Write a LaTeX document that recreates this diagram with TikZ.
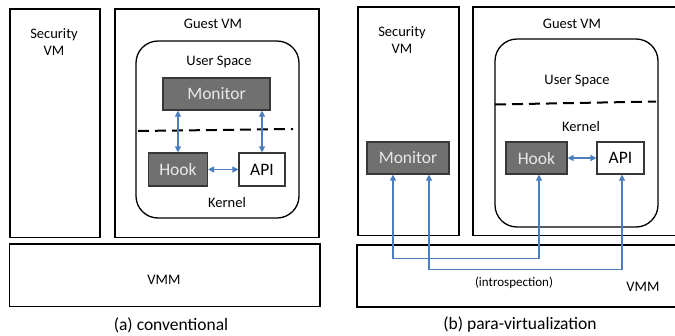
\documentclass[tikz,border=0pt]{standalone}
\usepackage{fontspec}
\setmainfont{Carlito}
\usetikzlibrary{arrows.meta}
\definecolor{linkblue}{RGB}{74,126,190}
\definecolor{darkfill}{RGB}{112,112,112}
\definecolor{darkedge}{RGB}{55,55,55}
\definecolor{lighttext}{RGB}{232,232,232}
\tikzset{
  frame/.style={draw=black,line width=1.8pt,inner sep=0pt},
  osbox/.style={draw=black,line width=1.3pt,rounded corners=22pt,inner sep=0pt},
  darkbox/.style={draw=darkedge,fill=darkfill,line width=1.1pt,inner sep=0pt,
    text=lighttext,font=\fontsize{17.5}{20}\selectfont},
  lightbox/.style={draw=darkedge,fill=white,line width=1.1pt,inner sep=0pt,
    text=black,font=\fontsize{17.5}{20}\selectfont},
  lbl/.style={inner sep=0pt,align=center,font=\fontsize{14.5}{17}\selectfont},
  caption/.style={inner sep=0pt,font=\fontsize{17.5}{20}\selectfont},
  userline/.style={line width=2pt,dash pattern=on 11pt off 6pt},
  link/.style={draw=linkblue,line width=1.2pt,
    {Triangle[length=6pt,width=6pt]}-{Triangle[length=6pt,width=6pt]}},
}
\begin{document}
\begin{tikzpicture}[x=1pt,y=-1pt]
\clip (0,0) rectangle (675,335);
\fill[white] (0,0) rectangle (675,335);

% ---------- (a) conventional ----------
\node[frame,minimum width=90.5pt,minimum height=228.5pt] (secA) at (55,123.25) {};
\node[frame,minimum width=204pt,minimum height=228.5pt] (guestA) at (217,123.25) {};
\node[osbox,minimum width=163pt,minimum height=177pt] (osA) at (217.5,129.5) {};
\node[frame,minimum width=310.5pt,minimum height=62.5pt] (vmmA) at (164.75,275.25) {};

\node[lbl] (secAlbl) at (54,42) {Security\\VM};
\node[lbl] (guestAlbl) at (213,24) {Guest VM};
\node[lbl] (userA) at (219,62) {User Space};
\node[lbl] (kernA) at (227,203) {Kernel};
\node[lbl] (vmmAlbl) at (164,280) {VMM};

\coordinate (dashAl) at (138,131);
\coordinate (dashAr) at (293,129);
\draw[userline] (dashAl) -- (dashAr);

\node[darkbox,minimum width=107pt,minimum height=32pt] (monA) at (216.5,94) {Monitor};
\node[darkbox,minimum width=59pt,minimum height=33pt] (hookA) at (178,169.5) {Hook};
\node[lightbox,minimum width=46pt,minimum height=33pt] (apiA) at (262,169.5) {API};

\draw[link] (monA.south -| hookA.north) -- (hookA.north);
\draw[link] (monA.south -| apiA.north) -- (apiA.north);
\draw[link] (hookA.east) -- (apiA.west);

\node[caption] (capA) at (171,325) {(a) conventional};

% ---------- (b) para-virtualization ----------
\node[frame,minimum width=101pt,minimum height=228.5pt] (secB) at (408.5,121.25) {};
\node[frame,minimum width=217pt,minimum height=228.5pt] (guestB) at (581.5,121.25) {};
\node[osbox,minimum width=163pt,minimum height=188pt] (osB) at (576.5,133) {};
\node[frame,minimum width=333pt,minimum height=62pt] (vmmB) at (523.5,276) {};

\node[lbl] (secBlbl) at (402,40) {Security\\VM};
\node[lbl] (guestBlbl) at (572,24) {Guest VM};
\node[lbl] (userB) at (577,81) {User Space};
\node[lbl] (kernB) at (581,127) {Kernel};
\node[lbl] (vmmBlbl) at (643,287) {VMM};
\node[lbl,font=\fontsize{13}{15}\selectfont] (introB) at (514,283) {(introspection)};

\coordinate (dashBl) at (495,104.5);
\coordinate (dashBr) at (656,101.5);
\draw[userline] (dashBl) -- (dashBr);

\node[darkbox,minimum width=82pt,minimum height=32pt] (monB) at (408,158) {Monitor};
\node[darkbox,minimum width=61pt,minimum height=32pt] (hookB) at (536.5,158) {Hook};
\node[lightbox,minimum width=47pt,minimum height=32pt] (apiB) at (620.5,158) {API};

\draw[link] (hookB.east) -- (apiB.west);
\draw[link] ([xshift=-15pt]monB.south) |- ([xshift=2.5pt,yshift=-84pt]hookB.south)
  -- ([xshift=2.5pt]hookB.south);
\draw[link] ([xshift=21pt]monB.south) |- ([xshift=1.5pt,yshift=-95pt]apiB.south)
  -- ([xshift=1.5pt]apiB.south);

\node[caption] (capB) at (520,325) {(b) para-virtualization};
\end{tikzpicture}
\end{document}
